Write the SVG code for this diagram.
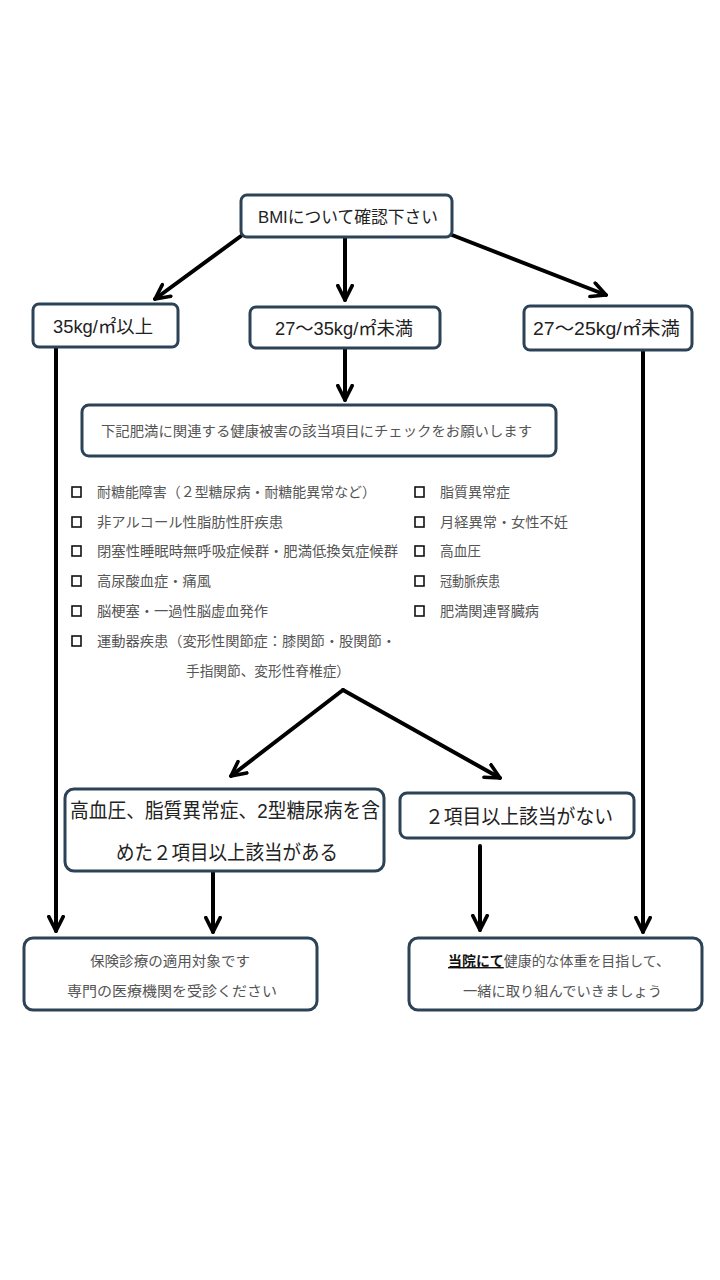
<svg xmlns="http://www.w3.org/2000/svg" width="720" height="1280" viewBox="0 0 720 1280">
<style>
.box{fill:#fff;stroke:#2b4257;stroke-width:3}
.t{font-family:"Liberation Sans","Noto Sans CJK JP",sans-serif;fill:#222}
.g{font-family:"Liberation Sans","Noto Sans CJK JP",sans-serif;fill:#555;font-size:14px}
.cb{fill:none;stroke:#111;stroke-width:1.6}
.c{fill:none;stroke:#000;stroke-width:4;stroke-linecap:round}
</style>
<defs>
<marker id="ah" viewBox="0 0 10 10" refX="9" refY="5" markerWidth="4.5" markerHeight="4.5" orient="auto" markerUnits="strokeWidth">
<path d="M1,1 L9,5 L1,9" fill="none" stroke="#000" stroke-width="2" stroke-linecap="round" stroke-linejoin="round"/>
</marker>
</defs>
<rect width="720" height="1280" fill="#fff"/>
<g id="connectors">
<path class="c" d="M241,236 L155,299" marker-end="url(#ah)"/>
<path class="c" d="M345,237 L345,300" marker-end="url(#ah)"/>
<path class="c" d="M452,235 L606,295" marker-end="url(#ah)"/>
<path class="c" d="M56,348 L56,931" marker-end="url(#ah)"/>
<path class="c" d="M345,349 L345,400" marker-end="url(#ah)"/>
<path class="c" d="M643,351 L643,932" marker-end="url(#ah)"/>
<path class="c" d="M343,690 L231,776" marker-end="url(#ah)"/>
<path class="c" d="M343,690 L500,778" marker-end="url(#ah)"/>
<path class="c" d="M213,872 L213,932" marker-end="url(#ah)"/>
<path class="c" d="M480,846 L480,930" marker-end="url(#ah)"/>
</g>
<g id="n-bmi">
<rect class="box" x="241" y="195" width="211" height="42" rx="6"/>
<text class="t" x="258" y="223" font-size="17" textLength="180" lengthAdjust="spacingAndGlyphs">BMIについて確認下さい</text>
</g>
<g id="n-35">
<rect class="box" x="33" y="304" width="145" height="43" rx="6"/>
<text class="t" x="53" y="333" font-size="18" textLength="100" lengthAdjust="spacingAndGlyphs">35kg/㎡以上</text>
</g>
<g id="n-27-35">
<rect class="box" x="250" y="307" width="190" height="41" rx="6"/>
<text class="t" x="275" y="335" font-size="18" textLength="138" lengthAdjust="spacingAndGlyphs">27～35kg/㎡未満</text>
</g>
<g id="n-27-25">
<rect class="box" x="524" y="306" width="168" height="44" rx="6"/>
<text class="t" x="533" y="335" font-size="18" textLength="147" lengthAdjust="spacingAndGlyphs">27～25kg/㎡未満</text>
</g>
<g id="n-check">
<rect class="box" x="82" y="405" width="474" height="51" rx="7"/>
<text class="g" x="101" y="436" font-size="14" textLength="431" lengthAdjust="spacingAndGlyphs">下記肥満に関連する健康被害の該当項目にチェックをお願いします</text>
</g>
<g id="n-list">
<rect class="cb" x="72" y="487" width="9" height="10"/>
<text class="g" x="97" y="497" textLength="279" lengthAdjust="spacingAndGlyphs">耐糖能障害（２型糖尿病・耐糖能異常など）</text>
<rect class="cb" x="72" y="517" width="9" height="10"/>
<text class="g" x="97" y="527" textLength="186" lengthAdjust="spacingAndGlyphs">非アルコール性脂肪性肝疾患</text>
<rect class="cb" x="72" y="546" width="9" height="10"/>
<text class="g" x="97" y="556" textLength="301" lengthAdjust="spacingAndGlyphs">閉塞性睡眠時無呼吸症候群・肥満低換気症候群</text>
<rect class="cb" x="72" y="576" width="9" height="10"/>
<text class="g" x="97" y="586" textLength="114" lengthAdjust="spacingAndGlyphs">高尿酸血症・痛風</text>
<rect class="cb" x="72" y="606" width="9" height="10"/>
<text class="g" x="97" y="616" textLength="171" lengthAdjust="spacingAndGlyphs">脳梗塞・一過性脳虚血発作</text>
<rect class="cb" x="72" y="636" width="9" height="10"/>
<text class="g" x="97" y="646" textLength="299" lengthAdjust="spacingAndGlyphs">運動器疾患（変形性関節症：膝関節・股関節・</text>
<text class="g" x="186" y="676" textLength="164" lengthAdjust="spacingAndGlyphs">手指関節、変形性脊椎症）</text>
<rect class="cb" x="415" y="487" width="9" height="10"/>
<text class="g" x="440" y="497" textLength="70" lengthAdjust="spacingAndGlyphs">脂質異常症</text>
<rect class="cb" x="415" y="517" width="9" height="10"/>
<text class="g" x="440" y="527" textLength="128" lengthAdjust="spacingAndGlyphs">月経異常・女性不妊</text>
<rect class="cb" x="415" y="546" width="9" height="10"/>
<text class="g" x="440" y="556" textLength="41" lengthAdjust="spacingAndGlyphs">高血圧</text>
<rect class="cb" x="415" y="576" width="9" height="10"/>
<text class="g" x="440" y="586" textLength="60" lengthAdjust="spacingAndGlyphs">冠動脈疾患</text>
<rect class="cb" x="415" y="606" width="9" height="10"/>
<text class="g" x="440" y="616" textLength="99" lengthAdjust="spacingAndGlyphs">肥満関連腎臓病</text>
</g>
<g id="n-yes">
<rect class="box" x="65" y="789" width="319" height="82" rx="9"/>
<text class="t" x="70" y="818" font-size="20" textLength="310" lengthAdjust="spacingAndGlyphs">高血圧、脂質異常症、2型糖尿病を含</text>
<text class="t" x="116" y="860" font-size="20" textLength="222" lengthAdjust="spacingAndGlyphs">めた２項目以上該当がある</text>
</g>
<g id="n-no">
<rect class="box" x="400" y="793" width="234" height="45" rx="7"/>
<text class="t" x="425" y="824" font-size="20" textLength="188" lengthAdjust="spacingAndGlyphs">２項目以上該当がない</text>
</g>
<g id="n-insurance">
<rect class="box" x="24" y="938" width="293" height="72" rx="9"/>
<text class="g" x="90" y="966" font-size="15" textLength="160" lengthAdjust="spacingAndGlyphs">保険診療の適用対象です</text>
<text class="g" x="67" y="996" font-size="15" textLength="210" lengthAdjust="spacingAndGlyphs" fill="#333">専門の医療機関を受診ください</text>
</g>
<g id="n-clinic">
<rect class="box" x="409" y="938" width="293" height="72" rx="9"/>
<text class="g" x="448" y="966" font-size="15" textLength="222" lengthAdjust="spacingAndGlyphs"><tspan fill="#111" font-weight="bold" text-decoration="underline">当院にて</tspan>健康的な体重を目指して、</text>
<text class="g" x="463" y="996" font-size="15" textLength="199" lengthAdjust="spacingAndGlyphs">一緒に取り組んでいきましょう</text>
</g>
</svg>
